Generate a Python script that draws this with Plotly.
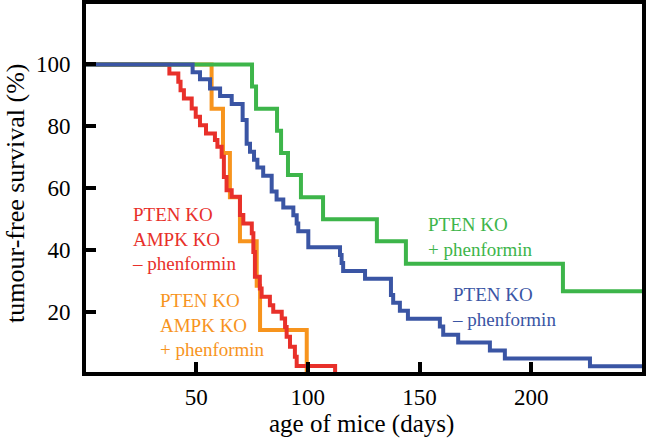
import plotly.graph_objects as go

# Kaplan-Meier style step curves (age in days, % tumour-free)
red_days = [0, 38.0, 42.0, 43.0, 44.5, 48.0, 49.8, 51.7, 54.4, 58.4, 59.5, 61.4, 62.4, 63.6, 65.9,
            69.6, 71.1, 74.9, 75.6, 76.3, 78.5, 79.3, 83.0, 84.5, 88.3, 89.8, 90.5, 92.0, 94.2, 95.0, 112.2]
red_surv = [100, 97.1, 94.4, 91.7, 89.0, 85.8, 83.1, 80.4, 77.7, 75.6, 73.4, 70.2, 63.7, 59.4, 57.3,
            51.4, 48.7, 45.5, 39.5, 31.5, 27.7, 25.0, 22.3, 20.2, 18.0, 15.3, 12.1, 8.9, 5.7, 2.7, 0]

orange_days = [0, 56.9, 62.0, 65.1, 69.6, 77.1, 78.6, 99.5]
orange_surv = [100, 85.7, 71.4, 57.1, 42.9, 28.6, 14.3, 0]

green_days = [0, 75.0, 76.8, 86.2, 88.0, 91.1, 96.9, 106.8, 130.9, 143.9, 214.2, 250]
green_surv = [100, 92.9, 85.7, 78.6, 71.4, 64.3, 57.1, 50.0, 42.9, 35.7, 26.8, 26.8]

blue_days = [0, 48.4, 51.7, 56.2, 60.7, 65.9, 70.8, 72.6, 74.1, 75.9, 77.4, 80.0, 83.8, 86.0, 89.0,
             93.5, 95.0, 95.7, 100.2, 114.4, 115.1, 115.8, 125.6, 137.2, 138.2, 141.2, 144.8,
             159.1, 160.6, 167.3, 181.5, 188.2, 226.3, 250]
blue_surv = [100, 97.5, 95.2, 92.2, 89.8, 87.2, 82.1, 74.4, 71.8, 69.2, 66.7, 64.1, 59.0, 56.4, 53.8,
             51.3, 48.7, 46.2, 41.0, 38.5, 35.9, 33.3, 30.8, 25.6, 23.1, 20.5, 17.9,
             15.4, 12.8, 10.3, 7.7, 5.1, 2.6, 2.6]

RED = '#E8302A'
ORANGE = '#F7941D'
GREEN = '#3DB54A'
BLUE = '#3A55A4'
FONT = 'Liberation Serif, Times New Roman, DejaVu Serif, serif'

fig = go.Figure()
# drawing order: orange, red, green, blue (blue on top)
for days, surv, col in [(orange_days, orange_surv, ORANGE), (red_days, red_surv, RED),
                        (green_days, green_surv, GREEN), (blue_days, blue_surv, BLUE)]:
    fig.add_trace(go.Scatter(x=days, y=surv, mode='lines',
                             line=dict(shape='hv', width=4, color=col),
                             showlegend=False, hoverinfo='skip'))

labels = [
    ('PTEN KO<br>AMPK KO<br>– phenformin', 20.4, 43.6, RED),
    ('PTEN KO<br>AMPK KO<br>+ phenformin', 32.9, 15.9, ORANGE),
    ('PTEN KO<br>+ phenformin', 152.9, 44.4, GREEN),
    ('PTEN KO<br>– phenformin', 163.6, 21.8, BLUE),
]
for txt, x, y, col in labels:
    fig.add_annotation(x=x, y=y, text=txt, showarrow=False, xanchor='left', yanchor='middle',
                       align='left', font=dict(family=FONT, size=19, color=col))

# axis titles as paper annotations for exact placement
fig.add_annotation(x=0.495, y=-0.141, xref='paper', yref='paper', text='age of mice (days)',
                   showarrow=False, xanchor='center', yanchor='middle',
                   font=dict(family=FONT, size=25, color='black'))
fig.add_annotation(x=-0.127, y=0.485, xref='paper', yref='paper', text='tumour-free survival (%)',
                   showarrow=False, textangle=-90, xanchor='center', yanchor='middle',
                   font=dict(family=FONT, size=26, color='black'))

axis_common = dict(showline=True, linecolor='black', linewidth=4, mirror=True,
                   ticks='inside', ticklen=10, tickwidth=3.5, tickcolor='black',
                   showgrid=False, zeroline=False, automargin=False,
                   tickfont=dict(family=FONT, size=23, color='black'))

fig.update_xaxes(range=[0.67, 249.6], tickvals=[50, 100, 150, 200], ticklabelstandoff=1, **axis_common)
fig.update_yaxes(range=[0.74, 119.5], tickvals=[20, 40, 60, 80, 100], ticklabelstandoff=7, **axis_common)

fig.update_layout(width=646, height=438, margin=dict(l=86, r=4, t=4, b=66),
                  plot_bgcolor='white', paper_bgcolor='white')

# page body has a default 8px margin; remove it so the figure fills the window
fig.write_html("out.html", config={'displayModeBar': False},
               post_script="document.body.style.margin='0';")
